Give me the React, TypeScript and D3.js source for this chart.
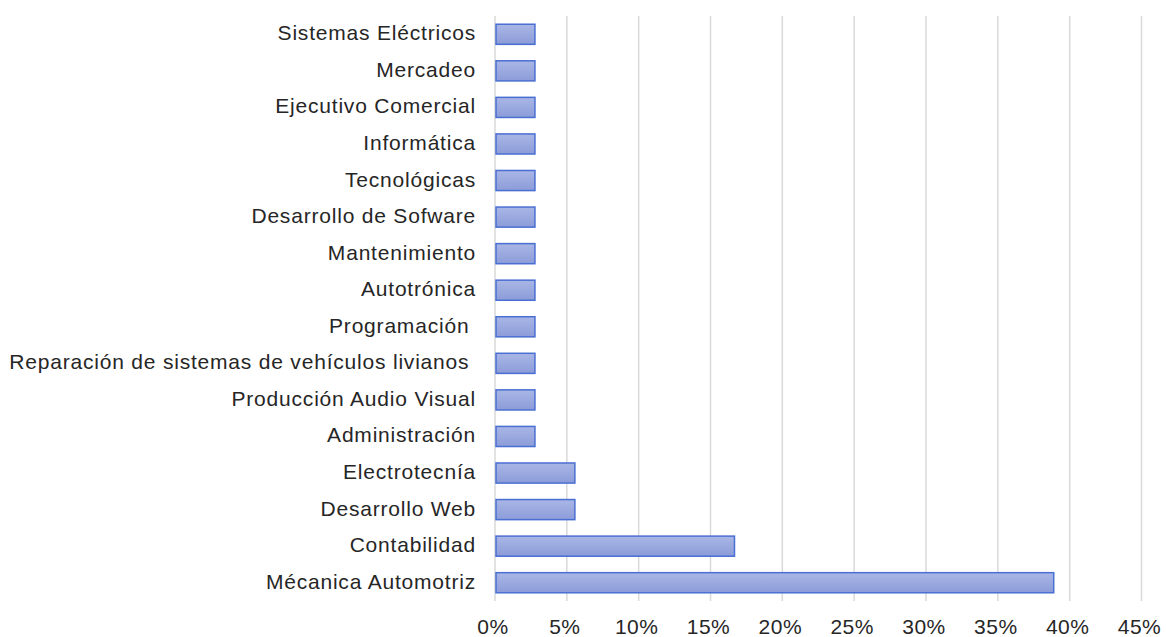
import React from "react";
import * as d3 from "d3";

const categories = [
  "Sistemas Eléctricos",
  "Mercadeo",
  "Ejecutivo Comercial",
  "Informática",
  "Tecnológicas",
  "Desarrollo de Sofware",
  "Mantenimiento",
  "Autotrónica",
  "Programación ",
  "Reparación de sistemas de vehículos livianos ",
  "Producción Audio Visual",
  "Administración",
  "Electrotecnía",
  "Desarrollo Web",
  "Contabilidad",
  "Mécanica Automotriz",
];
const values = [
  2.78, 2.78, 2.78, 2.78, 2.78, 2.78, 2.78, 2.78, 2.78, 2.78, 2.78, 2.78, 5.56,
  5.56, 16.67, 38.89,
];
const xTicks = [0, 5, 10, 15, 20, 25, 30, 35, 40, 45];

const W = 1166;
const H = 637;
const margin = { left: 495, right: 25, top: 16, bottom: 36 };

export default function App() {
  const x = d3.scaleLinear().domain([0, 45]).range([margin.left, 1141.5]);
  const y = d3
    .scaleBand<string>()
    .domain(categories)
    .range([margin.top, 601])
    .paddingInner(0.45)
    .paddingOuter(0.225);
  const font = "'Liberation Sans', Arial, Helvetica, sans-serif";
  return (
    <svg
      width={W}
      height={H}
      style={{ position: "absolute", left: 0, top: 0, background: "#fff" }}
    >
      <defs>
        <linearGradient id="barGrad" x1="0" y1="0" x2="0" y2="1">
          <stop offset="0%" stopColor="#a9b6e6" />
          <stop offset="100%" stopColor="#8c9cd8" />
        </linearGradient>
      </defs>
      {xTicks.map((t) => (
        <line
          key={t}
          x1={x(t)}
          x2={x(t)}
          y1={16}
          y2={601}
          stroke="#d9d9d9"
          strokeWidth={1.5}
        />
      ))}
      {categories.map((c, i) => (
        <rect
          key={c}
          x={x(0) + 1}
          y={y(c)!}
          width={x(values[i]) - x(0) - 1}
          height={y.bandwidth()}
          fill="url(#barGrad)"
          stroke="#4a6fd2"
          strokeWidth={1.5}
        />
      ))}
      {categories.map((c) => (
        <text
          key={c}
          x={476}
          y={y(c)! + y.bandwidth() / 2 + 6}
          textAnchor="end"
          fontFamily={font}
          fontSize={21}
          letterSpacing={0.8}
          fill="#262626"
          style={{ whiteSpace: "pre" }}
        >
          {c}
        </text>
      ))}
      {xTicks.map((t) => (
        <text
          key={t}
          x={x(t) - 2}
          y={634}
          textAnchor="middle"
          fontFamily={font}
          fontSize={21}
          letterSpacing={0.5}
          fill="#262626"
        >
          {t + "%"}
        </text>
      ))}
    </svg>
  );
}
